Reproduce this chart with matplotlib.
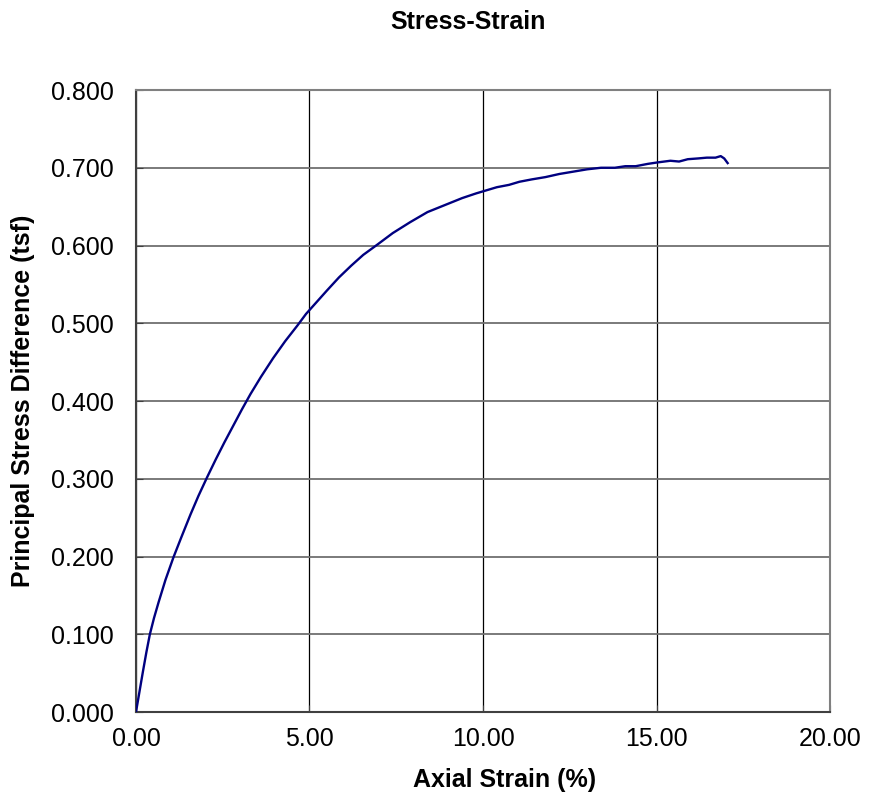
import matplotlib.pyplot as plt
from matplotlib.ticker import FormatStrFormatter

plt.rcParams['font.family'] = ['Liberation Sans', 'DejaVu Sans']

# Axial strain (%) and principal stress difference (tsf)
strain = [0.00, 0.10, 0.20, 0.30, 0.40, 0.52, 0.65, 0.85, 1.08, 1.30, 1.57,
          1.80, 2.05, 2.30, 2.55, 2.80, 3.05, 3.30, 3.60, 3.95, 4.30, 4.65,
          4.90, 5.20, 5.50, 5.85, 6.20, 6.55, 6.95, 7.40, 7.90, 8.40, 8.90,
          9.40, 9.80, 10.10, 10.40, 10.75, 11.05, 11.40, 11.80, 12.20, 12.60,
          13.00, 13.40, 13.80, 14.10, 14.40, 14.75, 15.05, 15.40, 15.65,
          15.90, 16.20, 16.45, 16.70, 16.85, 16.95, 17.05]
stress = [0.000, 0.026, 0.052, 0.077, 0.100, 0.121, 0.141, 0.170, 0.199,
          0.224, 0.254, 0.278, 0.302, 0.325, 0.347, 0.368, 0.389, 0.409,
          0.431, 0.455, 0.477, 0.497, 0.512, 0.527, 0.542, 0.559, 0.574,
          0.588, 0.601, 0.616, 0.630, 0.643, 0.652, 0.661, 0.667, 0.671,
          0.675, 0.678, 0.682, 0.685, 0.688, 0.692, 0.695, 0.698, 0.700,
          0.700, 0.702, 0.702, 0.705, 0.707, 0.709, 0.708, 0.711, 0.712,
          0.713, 0.713, 0.715, 0.712, 0.706]

x_ticks = [0, 5, 10, 15, 20]
y_ticks = [0.0, 0.1, 0.2, 0.3, 0.4, 0.5, 0.6, 0.7, 0.8]

fig = plt.figure(figsize=(8.79, 7.93), dpi=100)
ax = fig.add_axes([0.1547, 0.1021, 0.7896, 0.7844])

ax.plot(strain, stress, color='#000080', linewidth=1.7, zorder=3)

ax.set_xlim(0, 20)
ax.set_ylim(0, 0.8)
ax.set_xticks(x_ticks)
ax.set_yticks(y_ticks)
ax.xaxis.set_major_formatter(FormatStrFormatter('%.2f'))
ax.yaxis.set_major_formatter(FormatStrFormatter('%.3f'))
ax.tick_params(labelsize=18, length=5, color='#404040', direction='in')
ax.tick_params(axis='x', pad=11)
ax.tick_params(axis='y', pad=16)

# horizontal grid in grey, vertical in black
ax.yaxis.grid(True, color='#707070', linewidth=1.3)
ax.xaxis.grid(True, color='black', linewidth=0.9)
for side in ['top', 'right']:
    ax.spines[side].set_color('#808080')
    ax.spines[side].set_linewidth(1.5)
for side in ['left', 'bottom']:
    ax.spines[side].set_color('#404040')
    ax.spines[side].set_linewidth(1.5)

ax.set_ylabel('Principal Stress Difference (tsf)', fontsize=18, fontweight='bold')
ax.yaxis.set_label_coords(-0.146, 0.5)
fig.text(505 / 879, 1 - 780 / 793, 'Axial Strain (%)', fontsize=18,
         fontweight='bold', ha='center', va='center')
fig.text(468 / 879, 1 - 22 / 793, 'Stress-Strain', fontsize=18,
         fontweight='bold', ha='center', va='center')

fig.savefig('out.png', dpi=100)
